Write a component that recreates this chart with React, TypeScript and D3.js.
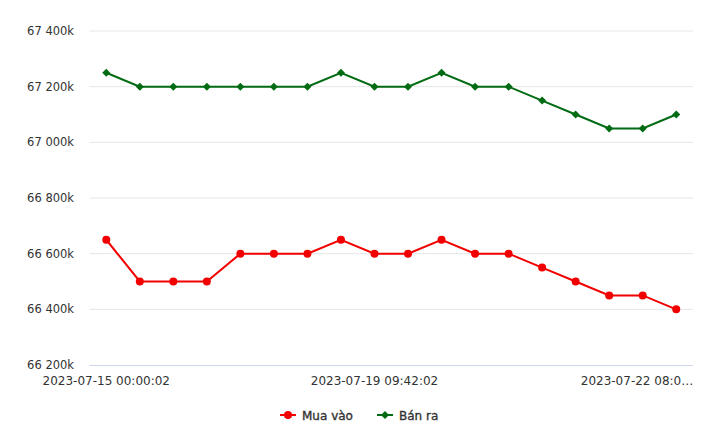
import React from "react";
import * as d3 from "d3";

const categories = [
  "2023-07-15 00:00:02",
  "2023-07-15 08:10:02",
  "2023-07-16 00:00:02",
  "2023-07-16 08:10:02",
  "2023-07-17 00:00:02",
  "2023-07-17 08:10:02",
  "2023-07-18 00:00:02",
  "2023-07-18 08:10:02",
  "2023-07-19 09:42:02",
  "2023-07-19 14:20:02",
  "2023-07-20 00:00:02",
  "2023-07-20 08:10:02",
  "2023-07-20 14:20:02",
  "2023-07-21 00:00:02",
  "2023-07-21 08:10:02",
  "2023-07-21 14:20:02",
  "2023-07-22 08:00:02",
  "2023-07-22 14:20:02",
];
const buyValues = [
  66650, 66500, 66500, 66500, 66600, 66600, 66600, 66650, 66600, 66600, 66650, 66600, 66600, 66550, 66500,
  66450, 66450, 66400,
];
const sellValues = [
  67250, 67200, 67200, 67200, 67200, 67200, 67200, 67250, 67200, 67200, 67250, 67200, 67200, 67150, 67100,
  67050, 67050, 67100,
];
const yTicks = [66200, 66400, 66600, 66800, 67000, 67200, 67400];
const xTickIdx = [0, 8, 16];
const seriesNames = ["Mua vào", "Bán ra"];

const W = 720;
const H = 442;
const FONT = "'DejaVu Sans', Verdana, sans-serif";
const RED = "#f20000";
const GREEN = "#006b12";

function fmt(v: number) {
  const s = String(v);
  return s.slice(0, -3) + " " + s.slice(-3) + "k";
}

export default function App() {
  const left = 89.5;
  const right = 693;
  const x = d3.scaleBand<number>().domain(d3.range(categories.length)).range([left, right]);
  const cx = (i: number) => (x(i) as number) + x.bandwidth() / 2;
  const y = d3.scaleLinear().domain([66200, 67400]).range([365, 31]);
  const line = d3
    .line<number>()
    .x((_, i) => cx(i))
    .y((d) => y(d));
  const diamond = (r: number) => `M0,${-r}L${r},0L0,${r}L${-r},0Z`;

  return (
    <svg width={W} height={H} style={{ position: "absolute", left: 0, top: 0, background: "#fff" }}>
      <rect width={W} height={H} fill="#fff" />
      {yTicks.map((t, i) => (
        <g key={t}>
          {i > 0 && <line x1={left} x2={right} y1={y(t)} y2={y(t)} stroke="#e6e6e6" strokeWidth={1} />}
          <text x={74} y={y(t) + 4} textAnchor="end" fontFamily={FONT} fontSize={11.5} fill="#333">
            {fmt(t)}
          </text>
        </g>
      ))}
      <line x1={left} x2={right} y1={y(66200) + 0.5} y2={y(66200) + 0.5} stroke="#ccd6eb" strokeWidth={1} />
      {xTickIdx.map((i) => {
        const label = i === 16 ? "2023-07-22 08:0…" : categories[i];
        const anchorX = i === 16 ? 637 : cx(i);
        return (
          <text key={i} x={anchorX} y={385} textAnchor="middle" fontFamily={FONT} fontSize={12} fill="#333">
            {label}
          </text>
        );
      })}
      <path d={line(sellValues) as string} fill="none" stroke={GREEN} strokeWidth={2} />
      {sellValues.map((v, i) => (
        <path key={i} d={diamond(4)} transform={`translate(${cx(i)},${y(v)})`} fill={GREEN} />
      ))}
      <path d={line(buyValues) as string} fill="none" stroke={RED} strokeWidth={2} />
      {buyValues.map((v, i) => (
        <circle key={i} cx={cx(i)} cy={y(v)} r={4} fill={RED} />
      ))}
      {/* legend */}
      <g fontFamily={FONT} fontSize={12} fill="#333" stroke="#333" strokeWidth={0.35}>
        <line x1={280} x2={296} y1={415} y2={415} stroke={RED} strokeWidth={2} />
        <circle cx={288} cy={415} r={4} fill={RED} stroke="none" />
        <text x={302} y={419.5}>{seriesNames[0]}</text>
        <line x1={377} x2={393} y1={415} y2={415} stroke={GREEN} strokeWidth={2} />
        <path d={diamond(4)} transform="translate(385,415)" fill={GREEN} stroke="none" />
        <text x={399} y={419.5}>{seriesNames[1]}</text>
      </g>
    </svg>
  );
}
